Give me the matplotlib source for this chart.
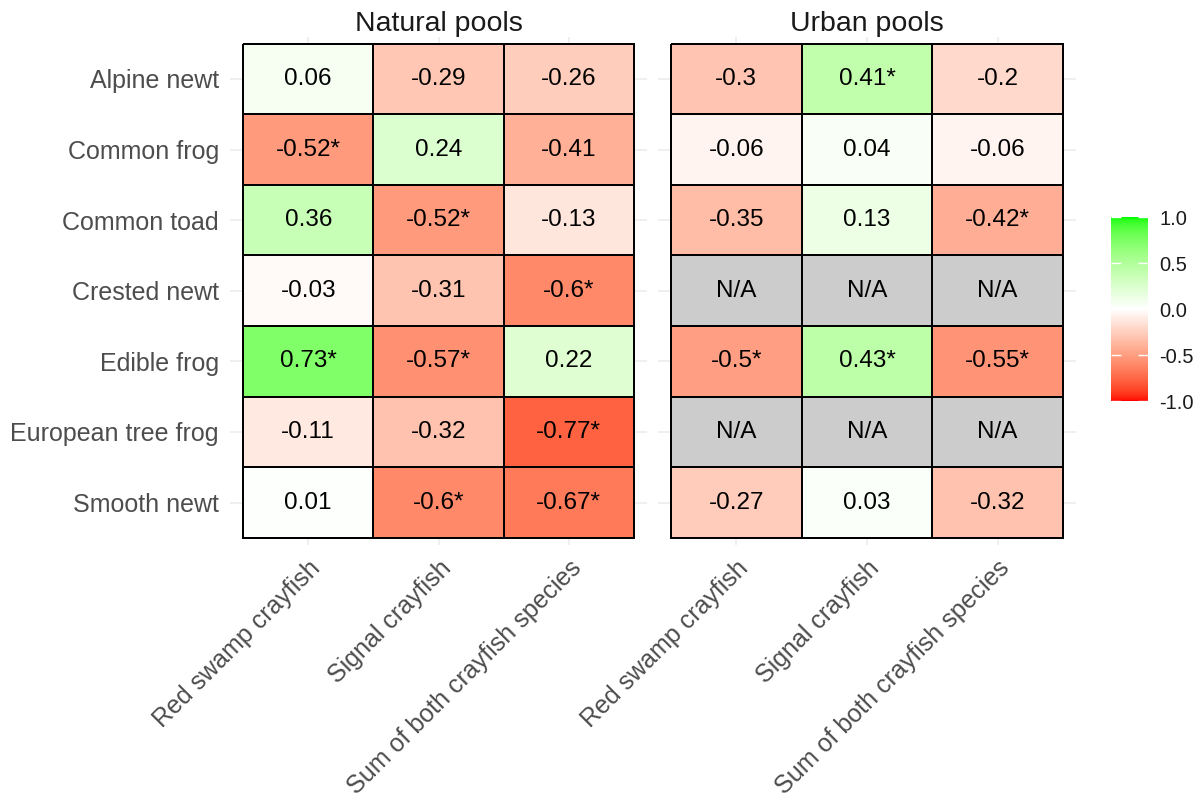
import numpy as np
import matplotlib
matplotlib.use('Agg')
import matplotlib.pyplot as plt
from matplotlib.colors import ListedColormap, Normalize

plt.rcParams['font.family'] = ['Liberation Sans', 'DejaVu Sans']

# 数据
species = ['Alpine newt', 'Common frog', 'Common toad', 'Crested newt',
           'Edible frog', 'European tree frog', 'Smooth newt']
crayfish = ['Red swamp crayfish', 'Signal crayfish', 'Sum of both crayfish species']
panels = ['Natural pools', 'Urban pools']

natural = [[0.06, -0.29, -0.26],
           [-0.52, 0.24, -0.41],
           [0.36, -0.52, -0.13],
           [-0.03, -0.31, -0.6],
           [0.73, -0.57, 0.22],
           [-0.11, -0.32, -0.77],
           [0.01, -0.6, -0.67]]
natural_sig = [[0, 0, 0],
               [1, 0, 0],
               [0, 1, 0],
               [0, 0, 1],
               [1, 1, 0],
               [0, 0, 1],
               [0, 1, 1]]

urban = [[-0.3, 0.41, -0.2],
         [-0.06, 0.04, -0.06],
         [-0.35, 0.13, -0.42],
         [np.nan, np.nan, np.nan],
         [-0.5, 0.43, -0.55],
         [np.nan, np.nan, np.nan],
         [-0.27, 0.03, -0.32]]
urban_sig = [[0, 1, 0],
             [0, 0, 0],
             [0, 0, 1],
             [0, 0, 0],
             [1, 1, 1],
             [0, 0, 0],
             [0, 0, 0]]


# red - white - green ramp interpolated in CIELAB (like ggplot)
def srgb_to_lab(rgb):
    rgb = np.asarray(rgb, float)
    lin = np.where(rgb <= 0.04045, rgb / 12.92, ((rgb + 0.055) / 1.055) ** 2.4)
    m = np.array([[0.4124, 0.3576, 0.1805],
                  [0.2126, 0.7152, 0.0722],
                  [0.0193, 0.1192, 0.9505]])
    xyz = m @ lin / np.array([0.95047, 1.0, 1.08883])
    f = np.where(xyz > 0.008856, np.cbrt(xyz), 7.787 * xyz + 16 / 116)
    return np.array([116 * f[1] - 16, 500 * (f[0] - f[1]), 200 * (f[1] - f[2])])


def lab_to_srgb(lab):
    L, a, b = lab
    fy = (L + 16) / 116
    fx = fy + a / 500
    fz = fy - b / 200
    f = np.array([fx, fy, fz])
    xyz = np.where(f ** 3 > 0.008856, f ** 3, (f - 16 / 116) / 7.787)
    xyz = xyz * np.array([0.95047, 1.0, 1.08883])
    minv = np.array([[3.2406, -1.5372, -0.4986],
                     [-0.9689, 1.8758, 0.0415],
                     [0.0557, -0.2040, 1.0570]])
    lin = np.clip(minv @ xyz, 0, 1)
    rgb = np.where(lin <= 0.0031308, 12.92 * lin, 1.055 * lin ** (1 / 2.4) - 0.055)
    return np.clip(rgb, 0, 1)


lab_red = srgb_to_lab([1, 0, 0])
lab_white = srgb_to_lab([1, 1, 1])
lab_green = srgb_to_lab([0, 1, 0])
colors = []
for t in np.linspace(-1, 1, 256):
    if t < 0:
        lab = lab_white + (lab_red - lab_white) * (-t)
    else:
        lab = lab_white + (lab_green - lab_white) * t
    colors.append(lab_to_srgb(lab))
cmap = ListedColormap(colors)
cmap.set_bad('#CCCCCC')
norm = Normalize(-1, 1)

fig = plt.figure(figsize=(12, 8.07), dpi=100)
ax_pos = [[0.1917, 0.3247, 0.3475, 0.630],
          [0.5483, 0.3247, 0.3483, 0.630]]

data_sets = [(natural, natural_sig), (urban, urban_sig)]
mesh = None
for k in range(2):
    ax = fig.add_axes(ax_pos[k])
    vals = np.array(data_sets[k][0], float)
    sig = np.array(data_sets[k][1])
    masked = np.ma.masked_invalid(vals)
    mesh = ax.pcolormesh(np.arange(-0.5, 3), np.arange(-0.5, 7), masked,
                         cmap=cmap, norm=norm, edgecolors='black',
                         linewidth=1.1, zorder=2)
    for i in range(len(species)):
        for j in range(len(crayfish)):
            v = vals[i, j]
            if np.isnan(v):
                s = 'N/A'
            else:
                s = f'{v:g}' + ('*' if sig[i, j] else '')
            ax.text(j, i, s, ha='center', va='center', fontsize=17.5,
                    color='black', zorder=3)
    ax.set_xlim(-0.6, 2.6)
    ax.set_ylim(6.6, -0.6)
    ax.set_xticks(range(3))
    ax.set_yticks(range(7))
    ax.set_xticklabels(crayfish, rotation=45, ha='right', va='top',
                       rotation_mode='anchor', fontsize=18, color='#4D4D4D')
    if k == 0:
        ax.set_yticklabels(species, fontsize=18, color='#4D4D4D')
    else:
        ax.set_yticklabels([])
    ax.tick_params(length=0, pad=8)
    ax.grid(True, color='#EBEBEB', linewidth=1.1, zorder=0)
    ax.set_axisbelow(True)
    for sp in ax.spines.values():
        sp.set_visible(False)
    ax.set_title(panels[k], fontsize=20.5, color='#1A1A1A', pad=4)

cax = fig.add_axes([0.9258, 0.503, 0.0308, 0.228])
cb = fig.colorbar(mesh, cax=cax, ticks=[-1, -0.5, 0, 0.5, 1])
cb.outline.set_visible(False)
cb.ax.set_yticklabels(['-1.0', '-0.5', '0.0', '0.5', '1.0'])
cax.tick_params(direction='in', color='white', length=7, width=1,
                left=True, right=True, labelsize=14.5, labelcolor='#1A1A1A',
                pad=8)

fig.savefig('out.png', dpi=100, facecolor='white')
